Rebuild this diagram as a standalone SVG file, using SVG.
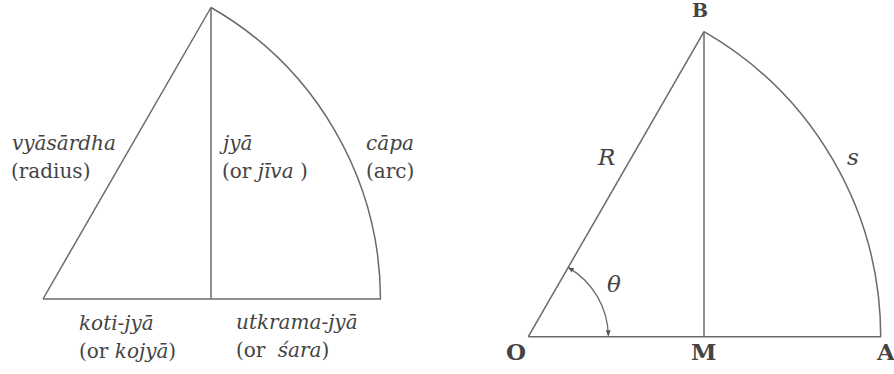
<svg xmlns="http://www.w3.org/2000/svg" width="894" height="374" viewBox="0 0 894 374">
<style>
.ln{fill:none;stroke:#6a6a6a;stroke-width:1.5}
.t{font-family:"DejaVu Serif","Liberation Serif",serif;font-size:20px;fill:#444}
.i{font-style:italic}
.lb{font-family:"DejaVu Serif","Liberation Serif",serif;font-size:23px;fill:#444;font-weight:bold}
.v{font-family:"DejaVu Serif","Liberation Serif",serif;font-size:23px;fill:#444;font-style:italic}
</style>
<defs>
<marker id="ah" viewBox="0 0 6 6" refX="5.5" refY="3" markerWidth="6" markerHeight="6" markerUnits="userSpaceOnUse" orient="auto-start-reverse">
<path d="M0,0.5 L6,3 L0,5.5 Z" fill="#555"/>
</marker>
</defs>
<rect width="894" height="374" fill="#fff"/>
<g id="left-figure">
<g id="connectors-left">
<path class="ln" d="M43 299 L211 7.5"/>
<path class="ln" d="M211 7.5 L211 299"/>
<path class="ln" d="M43 299 L381 299"/>
<path class="ln" d="M211 7.5 A337 337 0 0 1 380.5 299"/>
</g>
<g id="lbl-radius">
<text class="t i" x="12" y="150">vyāsārdha</text>
<text class="t" x="11" y="178">(radius)</text>
</g>
<g id="lbl-jya">
<text class="t i" x="223" y="150">jyā</text>
<text class="t" x="222" y="178">(or <tspan class="i">jīva</tspan> )</text>
</g>
<g id="lbl-capa">
<text class="t i" x="366" y="150">cāpa</text>
<text class="t" x="366" y="178">(arc)</text>
</g>
<g id="lbl-koti">
<text class="t i" x="79" y="330">koti-jyā</text>
<text class="t" x="79" y="358">(or <tspan class="i">kojyā</tspan>)</text>
</g>
<g id="lbl-utkrama">
<text class="t i" x="236" y="329">utkrama-jyā</text>
<text class="t" x="236" y="357">(or <tspan class="i" dx="6">śara</tspan>)</text>
</g>
</g>
<g id="right-figure">
<g id="connectors-right">
<path class="ln" d="M528.3 336.7 L704 31.7"/>
<path class="ln" d="M704 31.7 L704 336.7"/>
<path class="ln" d="M528.3 336.7 L881 336.7"/>
<path class="ln" d="M704 31.7 A352 352 0 0 1 880.7 336.7"/>
<path class="ln" style="stroke-width:1.3" d="M568.3 267.6 A80 80 0 0 1 608.3 335.8" marker-start="url(#ah)" marker-end="url(#ah)"/>
</g>
<g id="node-B"><text class="lb" style="font-size:19px" x="692" y="17">B</text></g>
<g id="node-O"><text class="lb" x="506" y="360">O</text></g>
<g id="node-M"><text class="lb" x="691" y="360">M</text></g>
<g id="node-A"><text class="lb" x="877" y="360">A</text></g>
<g id="lbl-R"><text class="v" x="598" y="165">R</text></g>
<g id="lbl-s"><text class="v" x="847" y="165">s</text></g>
<g id="lbl-theta"><text class="v" x="607" y="292">θ</text></g>
</g>
</svg>
